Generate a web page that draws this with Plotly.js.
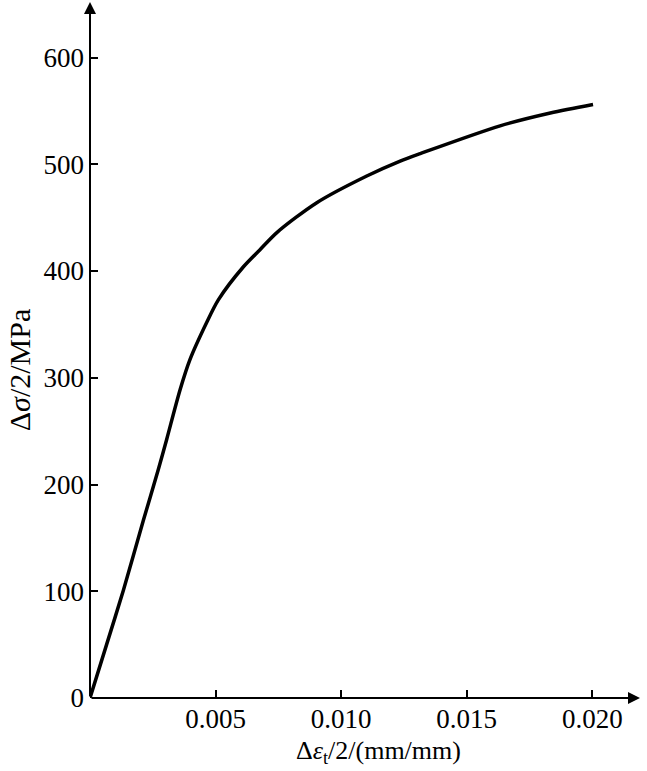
<!DOCTYPE html>
<html>
<head>
<meta charset="utf-8">
<script src="https://cdn.plot.ly/plotly-3.0.1.min.js"></script>
<style>html,body{margin:0;padding:0;background:#fff;}#chart{width:647px;height:771px;}</style>
</head>
<body>
<div id="chart"></div>
<script>
// Strain amplitude (mm/mm)
const strain = [0, 0.00066, 0.00133, 0.00212, 0.00272, 0.00305, 0.00359, 0.00398, 0.00465, 0.00511, 0.00611, 0.00677, 0.00744, 0.00903, 0.01102, 0.01235, 0.01315, 0.01633, 0.01833, 0.02003];
// Stress amplitude (MPa)
const stress = [0, 50, 101, 166, 214, 242, 289, 317, 352, 373, 404, 420, 436, 464, 489, 503, 510, 536, 548, 556];
const xTicks = [0.005, 0.010, 0.015, 0.020];
const xTickText = ["0.005", "0.010", "0.015", "0.020"];
const yTicks = [0, 100, 200, 300, 400, 500, 600];
const xMax = 0.0219, yMax = 652;

const fam = "Liberation Serif, Times New Roman, serif";
const tickFont = {family: fam, size: 27, color: "#000"};
const xTitleFont = {family: fam, size: 26, color: "#000"};
const yTitleFont = {family: fam, size: 30, color: "#000"};

const trace = {
  x: strain, y: stress, type: "scatter", mode: "lines",
  line: {color: "#000", width: 3.5, shape: "spline", smoothing: 0.8},
  hoverinfo: "skip"
};

const layout = {
  width: 647, height: 771,
  margin: {l: 90, r: 7, t: 2, b: 73},
  paper_bgcolor: "#fff", plot_bgcolor: "#fff",
  showlegend: false,
  font: tickFont,
  xaxis: {
    range: [0, xMax], showgrid: false, zeroline: false, showline: false,
    tickmode: "array", tickvals: xTicks, ticktext: xTickText,
    ticks: "inside", ticklen: 8, tickwidth: 2, tickcolor: "#000",
    tickfont: tickFont, ticklabelstandoff: 2
  },
  yaxis: {
    range: [0, yMax], showgrid: false, zeroline: false, showline: false,
    tickmode: "array", tickvals: yTicks,
    ticks: "inside", ticklen: 8, tickwidth: 2, tickcolor: "#000",
    tickfont: tickFont, ticklabelstandoff: 5
  },
  annotations: [
    {x: xMax, y: 0, ax: 0, ay: 0, xref: "x", yref: "y", axref: "x", ayref: "y",
     text: "", showarrow: true, arrowhead: 2, arrowsize: 1.2, arrowwidth: 2, arrowcolor: "#000"},
    {x: 0, y: yMax, ax: 0, ay: 0, xref: "x", yref: "y", axref: "x", ayref: "y",
     text: "", showarrow: true, arrowhead: 2, arrowsize: 1.2, arrowwidth: 2, arrowcolor: "#000"},
    {text: "Δ<i>ε</i><sub>t</sub>/2/(mm/mm)", xref: "paper", yref: "paper",
     x: 0.525, y: 0, yshift: -54, xanchor: "center", yanchor: "middle", showarrow: false, font: xTitleFont},
    {text: "Δ<i>σ</i>/2/MPa", xref: "paper", yref: "paper",
     x: 0, xshift: -71, y: 0.471, xanchor: "center", yanchor: "middle", textangle: -90, showarrow: false, font: yTitleFont}
  ]
};

Plotly.newPlot("chart", [trace], layout, {displayModeBar: false, staticPlot: true});
</script>
</body>
</html>
